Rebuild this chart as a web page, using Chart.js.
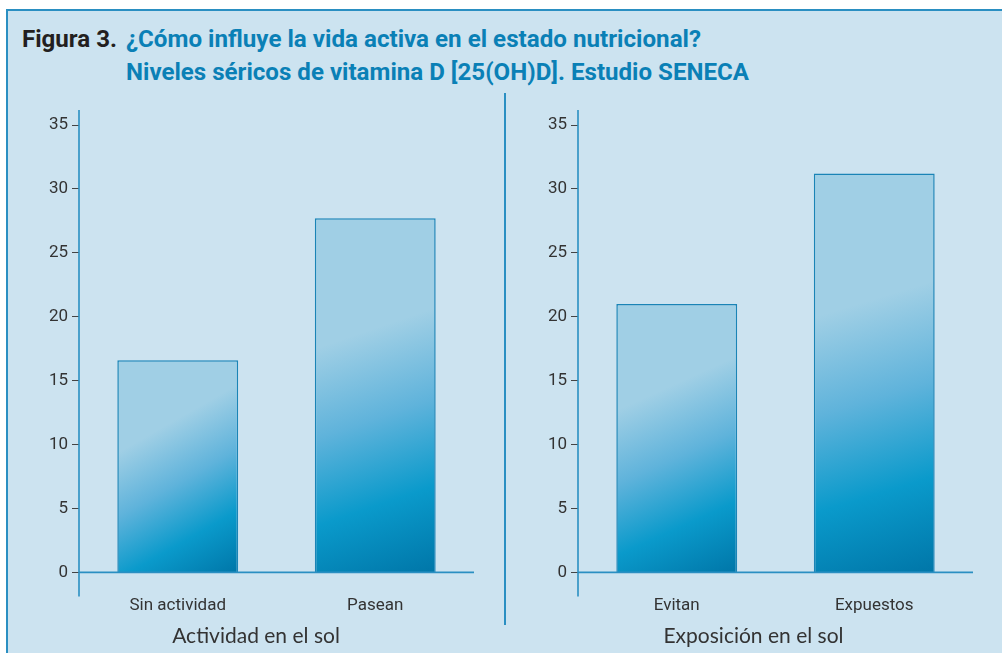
<!DOCTYPE html>
<html lang="es">
<head>
<meta charset="utf-8">
<title>Figura 3</title>
<script src="https://cdn.jsdelivr.net/npm/chart.js@4.4.1/dist/chart.umd.min.js"></script>
<style>
  html, body { margin: 0; padding: 0; background: #fff; }
  body { width: 1002px; height: 653px; position: relative; overflow: hidden; }
  #frame {
    position: absolute; left: 6px; top: 9px; right: 0; bottom: 0;
    background: #cce3f0;
    border-top: 2px solid #2a8fc2;
    border-left: 2px solid #2a8fc2;
  }
  .ttl {
    position: absolute; white-space: nowrap;
    font-family: "Liberation Sans Narrow", "Roboto", "Noto Sans", sans-serif;
    font-weight: bold; font-size: 24px; line-height: 24px;
    transform-origin: 0 50%;
  }
  .dark { color: #231f20; }
  .blue { color: #0a80b6; }
  canvas { position: absolute; }
  #sep { position: absolute; left: 504px; top: 93px; width: 2px; height: 532px; background: #2a8fc2; }
</style>
</head>
<body>
<div id="frame"></div>
<div class="ttl dark" id="t0" data-w="95" style="left:22px; top:27px;">Figura 3.</div>
<div class="ttl blue" id="t1" data-w="575" style="left:126px; top:27px;">¿Cómo influye la vida activa en el estado nutricional?</div>
<div class="ttl blue" id="t2" data-w="623" style="left:126px; top:60px;">Niveles séricos de vitamina D [25(OH)D]. Estudio SENECA</div>

<!-- canvas offsets and y-axis widths are picked so the bottom title
     lands in the middle of each panel -->
<canvas id="chartLeft" width="470" height="553" style="left:38px; top:100px;"></canvas>
<canvas id="chartRight" width="468" height="553" style="left:534px; top:100px;"></canvas>
<div id="sep"></div>

<script>
// Vitamin D serum levels (ng/ml), SENECA study
const activityLabels = ['Sin actividad', 'Pasean'];
const activityValues = [16.6, 27.7];
const sunLabels = ['Evitan', 'Expuestos'];
const sunValues = [21.0, 31.2];
const yMin = 0;
const yMax = 35;
const yStep = 5;

const AXIS_BLUE = '#2a8fc2';
const BAR_PCT = 0.612;
const TICK_FONT = { family: '"Liberation Sans Narrow", Roboto, sans-serif', size: 17 };

// stretch the header lines to their set widths
document.querySelectorAll('.ttl').forEach(el => {
  const w = el.getBoundingClientRect().width;
  el.style.transform = 'scaleX(' + (parseFloat(el.dataset.w) / w) + ')';
});

// diagonal light-to-dark fill, one gradient per bar
function barFill(ctx) {
  const chart = ctx.chart;
  const xs = chart.scales.x, ys = chart.scales.y;
  if (ctx.type !== 'data' || !xs || !ys) return '#a0cfe5';
  const n = chart.data.labels.length;
  const half = xs.width / n * BAR_PCT / 2;
  const cx = xs.getPixelForValue(ctx.dataIndex);
  const top = ys.getPixelForValue(ctx.raw);
  const base = ys.getPixelForValue(0);
  if (![half, cx, top, base].every(Number.isFinite) || half <= 0) return '#a0cfe5';
  const g = chart.ctx.createLinearGradient(cx - half, top, cx + half, base);
  g.addColorStop(0, '#a0cfe5');
  g.addColorStop(0.33, '#a0cfe5');
  g.addColorStop(0.56, '#5fb3db');
  g.addColorStop(0.78, '#0a9acb');
  g.addColorStop(1, '#0076a8');
  return g;
}

// y axis line running past the scale ends, plus baseline
const axisLines = {
  id: 'axisLines',
  afterDatasetsDraw(chart) {
    const { ctx, chartArea: a, scales: { y } } = chart;
    const base = y.getPixelForValue(0);
    ctx.save();
    ctx.strokeStyle = AXIS_BLUE;
    ctx.lineWidth = 1.6;
    ctx.beginPath();
    ctx.moveTo(a.left, a.top - 15);
    ctx.lineTo(a.left, base + 24);
    ctx.moveTo(a.left, base);
    ctx.lineTo(a.right, base);
    ctx.stroke();
    ctx.restore();
  }
};

function makeChart(id, labels, values, axisTitle, yWidth, padRight) {
  return new Chart(document.getElementById(id), {
    type: 'bar',
    data: {
      labels: labels,
      datasets: [{
        data: values,
        backgroundColor: barFill,
        borderColor: '#1a84b6',
        borderWidth: 1.5,
        barPercentage: BAR_PCT,
        categoryPercentage: 1
      }]
    },
    plugins: [axisLines],
    options: {
      responsive: false,
      animation: false,
      layout: { padding: { top: 25, right: padRight, left: 0, bottom: 0 } },
      plugins: {
        legend: { display: false },
        tooltip: { enabled: false },
        title: {
          display: true,
          position: 'bottom',
          text: axisTitle,
          color: '#333',
          font: { family: 'Lato, "Open Sans", sans-serif', size: 21, weight: 'normal' },
          padding: { top: 0, bottom: 4 }
        }
      },
      scales: {
        x: {
          grid: { display: false, drawTicks: false },
          border: { display: false },
          ticks: { color: '#333', padding: 23, font: TICK_FONT },
          afterFit(scale) { scale.height = 51.4; }
        },
        y: {
          min: yMin,
          max: yMax,
          grid: { drawOnChartArea: false, drawTicks: true, tickLength: 7, color: '#444', lineWidth: 1 },
          border: { display: false },
          ticks: { stepSize: yStep, color: '#333', padding: 4, font: TICK_FONT },
          afterFit(scale) { scale.width = yWidth; }
        }
      }
    }
  });
}

makeChart('chartLeft', activityLabels, activityValues, 'Actividad en el sol', 41, 34);
makeChart('chartRight', sunLabels, sunValues, 'Exposición en el sol', 44, 29);
</script>
</body>
</html>
